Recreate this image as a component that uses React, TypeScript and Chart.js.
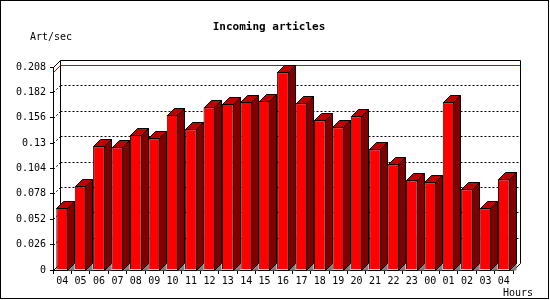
import React, { useEffect, useRef } from "react";
import { Chart, registerables } from "chart.js";

Chart.register(...registerables);

const hours = ["04", "05", "06", "07", "08", "09", "10", "11", "12", "13", "14", "15", "16", "17", "18", "19", "20", "21", "22", "23", "00", "01", "02", "03", "04"];
const artPerSec = [0.0635, 0.0857, 0.1267, 0.1257, 0.1383, 0.1349, 0.1588, 0.1441, 0.1667, 0.1701, 0.1722, 0.1732, 0.2025, 0.1708, 0.1534, 0.1462, 0.1575, 0.1237, 0.1083, 0.092, 0.0899, 0.1718, 0.0827, 0.0632, 0.0929];
const yTicks = [0, 0.026, 0.052, 0.078, 0.104, 0.13, 0.156, 0.182, 0.208];
const titleText = "Incoming articles";
const yUnitText = "Art/sec";
const xUnitText = "Hours";

const D = 7;
const MONO = "'DejaVu Sans Mono', monospace";

function seg(ctx: CanvasRenderingContext2D, x1: number, y1: number, x2: number, y2: number) {
  ctx.beginPath();
  ctx.moveTo(x1, y1);
  ctx.lineTo(x2, y2);
  ctx.stroke();
}

const threeD = {
  id: "threeD",
  beforeDraw(chart: any) {
    const ctx = chart.ctx as CanvasRenderingContext2D;
    ctx.save();
    ctx.fillStyle = "#fff";
    ctx.fillRect(0, 0, chart.width, chart.height);
    ctx.strokeStyle = "#000";
    ctx.lineWidth = 1;
    ctx.strokeRect(0.5, 0.5, 548, 298);
    ctx.fillStyle = "#000";
    ctx.font = "bold 11px " + MONO;
    ctx.textAlign = "center";
    ctx.textBaseline = "middle";
    ctx.fillText(titleText, 269, 27);
    ctx.font = "10px " + MONO;
    ctx.textAlign = "left";
    ctx.fillText(yUnitText, 30, 37);
    ctx.textAlign = "right";
    ctx.fillText(xUnitText, 533, 293);
    ctx.restore();
  },
  beforeDatasetsDraw(chart: any) {
    const ctx = chart.ctx as CanvasRenderingContext2D;
    const { left, right, top, bottom } = chart.chartArea;
    const y = chart.scales.y;
    const L = Math.round(left) + 0.5;
    const R = Math.round(right) + 0.5;
    const T = Math.round(top) + 0.5;
    const B = Math.round(bottom) + 0.5;
    ctx.save();
    ctx.lineWidth = 1;
    ctx.strokeStyle = "#000";
    // dotted gridlines on back wall and left wall
    ctx.setLineDash([2, 2]);
    yTicks.forEach((v, i) => {
      if (i === 0 || i === yTicks.length - 1) return;
      const py = Math.round(y.getPixelForValue(v)) + 0.5;
      seg(ctx, L + D, py - D, R + D, py - D);
      seg(ctx, L, py, L + D, py - D);
    });
    ctx.setLineDash([]);
    // red max line
    const maxV = Math.max(...artPerSec);
    const pm = Math.round(y.getPixelForValue(maxV)) + 0.5;
    ctx.strokeStyle = "#e00000";
    seg(ctx, L, pm, L + D, pm - D);
    seg(ctx, L + D, pm - D, R + D, pm - D);
    // frame
    ctx.strokeStyle = "#000";
    seg(ctx, L + D, T - D, L + D, B - D);
    seg(ctx, L + D, T - D, R + D, T - D);
    seg(ctx, R + D, T - D, R + D, B - D);
    seg(ctx, L, T, L + D, T - D);
    seg(ctx, L, B, L + D, B - D);
    seg(ctx, R, B, R + D, B - D);
    ctx.restore();
  },
  afterDatasetsDraw(chart: any) {
    const ctx = chart.ctx as CanvasRenderingContext2D;
    const meta = chart.getDatasetMeta(0);
    ctx.save();
    ctx.lineWidth = 1;
    ctx.strokeStyle = "#000";
    meta.data.forEach((bar: any) => {
      const p = bar.getProps(["x", "y", "base", "width"], true);
      const xl = Math.round(p.x - p.width / 2) + 0.5;
      const xr = Math.round(p.x + p.width / 2) - 0.5;
      const yt = Math.round(p.y) + 0.5;
      const yb = Math.round(p.base) + 0.5;
      // floor shadow
      ctx.fillStyle = "#808080";
      ctx.beginPath();
      ctx.moveTo(xr, yb);
      ctx.lineTo(xr + D, yb - D);
      ctx.lineTo(xr + D, yb);
      ctx.closePath();
      ctx.fill();
      // top face
      ctx.fillStyle = "#c00000";
      ctx.beginPath();
      ctx.moveTo(xl, yt);
      ctx.lineTo(xl + D, yt - D);
      ctx.lineTo(xr + D, yt - D);
      ctx.lineTo(xr, yt);
      ctx.closePath();
      ctx.fill();
      ctx.stroke();
      // side face
      ctx.fillStyle = "#800000";
      ctx.beginPath();
      ctx.moveTo(xr, yt);
      ctx.lineTo(xr + D, yt - D);
      ctx.lineTo(xr + D, yb - D);
      ctx.lineTo(xr, yb);
      ctx.closePath();
      ctx.fill();
      ctx.stroke();
    });
    ctx.restore();
  },
};

export default function App() {
  const ref = useRef<HTMLCanvasElement | null>(null);
  useEffect(() => {
    if (!ref.current) return;
    const chart = new Chart(ref.current, {
      type: "bar",
      data: {
        labels: hours,
        datasets: [
          {
            data: artPerSec,
            backgroundColor: "#ff0000",
            borderColor: "#000000",
            borderWidth: 1,
            barPercentage: 0.64,
            categoryPercentage: 1,
          },
        ],
      },
      options: {
        responsive: false,
        animation: false,
        devicePixelRatio: 1,
        layout: { padding: { left: 0, top: 67, right: 37, bottom: 0 } },
        plugins: { legend: { display: false }, tooltip: { enabled: false }, title: { display: false } },
        scales: {
          x: {
            type: "category",
            offset: true,
            grid: { drawOnChartArea: false, offset: true, tickLength: 4, color: "#000" },
            border: { display: true, color: "#000" },
            ticks: { color: "#000", font: { family: MONO, size: 10 }, padding: 1, maxRotation: 0, autoSkip: false },
            afterFit: (s: any) => {
              s.height = 30;
            },
          },
          y: {
            min: 0,
            max: 0.208,
            grid: { drawOnChartArea: false, tickLength: 3, color: "#000" },
            border: { display: true, color: "#000" },
            afterBuildTicks: (s: any) => {
              s.ticks = yTicks.map((v) => ({ value: v }));
            },
            ticks: {
              color: "#000",
              font: { family: MONO, size: 10 },
              padding: 4,
              callback: (v: any) => String(Number(Number(v).toFixed(3))),
            },
            afterFit: (s: any) => {
              s.width = 53;
            },
          },
        },
      },
      plugins: [threeD],
    });
    return () => chart.destroy();
  }, []);
  return (
    <div style={{ position: "fixed", left: 0, top: 0, width: 550, height: 300, background: "#fff" }}>
      <canvas ref={ref} width={550} height={300} style={{ display: "block", width: 550, height: 300 }} />
    </div>
  );
}
